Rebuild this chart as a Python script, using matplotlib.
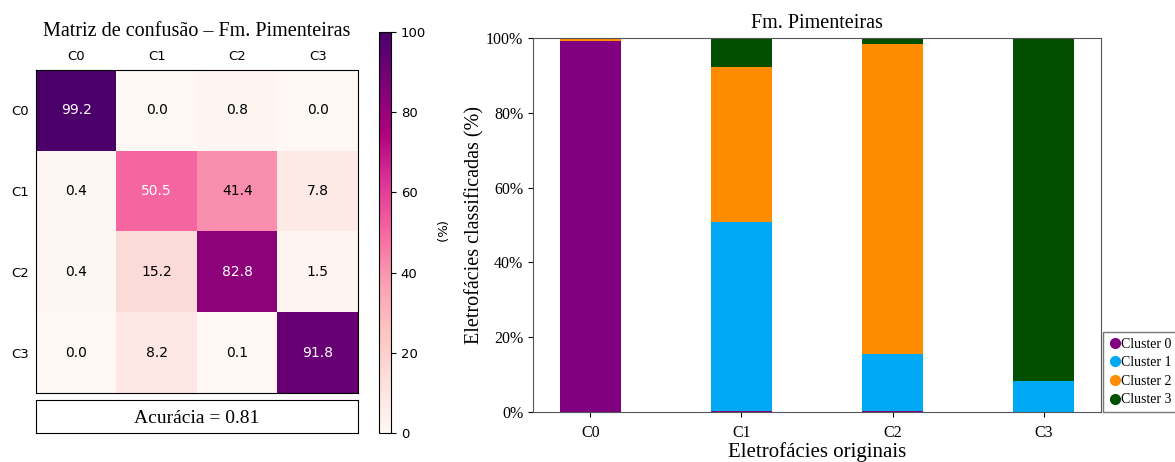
import numpy as np
import matplotlib
matplotlib.use("Agg")
from matplotlib import pyplot as plt

# classes (true = rows, predicted = columns)
classes = ["C0", "C1", "C2", "C3"]
row_c0 = [99.2, 0.0, 0.8, 0.0]
row_c1 = [0.4, 50.5, 41.4, 7.8]
row_c2 = [0.4, 15.2, 82.8, 1.5]
row_c3 = [0.0, 8.2, 0.1, 91.8]
accuracy = 0.81

cluster_names = ["Cluster 0", "Cluster 1", "Cluster 2", "Cluster 3"]
cluster_colors = ["#800080", "#00a9f4", "#ff8c00", "#005000"]

serif = ["Liberation Serif", "DejaVu Serif"]

matrix = np.array([row_c0, row_c1, row_c2, row_c3])

W, H = 1175, 462
fig = plt.figure(figsize=(W / 100, H / 100), dpi=100)


def px(x0, y0, x1, y1):
    # pixel box -> figure fraction
    return [x0 / W, 1 - y1 / H, (x1 - x0) / W, (y1 - y0) / H]


# ---- confusion matrix ----
ax = fig.add_axes(px(36, 70, 358, 393))
im = ax.imshow(matrix, cmap="RdPu", vmin=0, vmax=100, aspect="auto")
ax.set_xticks(range(len(classes)))
ax.set_yticks(range(len(classes)))
ax.set_xticklabels(classes, fontsize=9.5)
ax.set_yticklabels(classes, fontsize=9.5)
ax.xaxis.tick_top()
ax.tick_params(length=0, pad=5)
for i in range(len(classes)):
    for j in range(len(classes)):
        v = matrix[i, j]
        ax.text(j, i, f"{v:.1f}", ha="center", va="center", fontsize=10,
                color="white" if v > 50 else "black")
fig.text((36 + 358) / 2 / W, 1 - 32 / H, "Matriz de confusão – Fm. Pimenteiras",
         ha="center", va="center", family=serif, fontsize=14.5)

# accuracy box
axa = fig.add_axes(px(36, 400, 358, 433))
axa.set_xticks([])
axa.set_yticks([])
axa.text(0.5, 0.45, f"Acurácia = {accuracy:.2f}", ha="center", va="center",
         family=serif, fontsize=14, transform=axa.transAxes)

# colorbar
cax = fig.add_axes(px(379, 32, 391, 433))
cb = fig.colorbar(im, cax=cax)
cb.set_ticks([0, 20, 40, 60, 80, 100])
cb.ax.tick_params(labelsize=9.5)
cb.set_label("(%)", rotation=270, fontsize=9.5, labelpad=14)
cb.outline.set_linewidth(0.8)

# ---- stacked bars ----
axb = fig.add_axes(px(533, 38, 1101, 412))
x = np.arange(len(classes))
bottom = np.zeros(len(classes))
for k in range(len(cluster_names)):
    vals = matrix[:, k]
    axb.bar(x, vals, 0.4, bottom=bottom, color=cluster_colors[k],
            label=cluster_names[k])
    bottom += vals
axb.set_ylim(0, 100)
axb.set_xlim(-0.38, 3.38)
axb.set_xticks(x)
axb.set_xticklabels(classes, family=serif, fontsize=11.5)
axb.set_yticks([0, 20, 40, 60, 80, 100])
axb.set_yticklabels([f"{t}%" for t in [0, 20, 40, 60, 80, 100]],
                    family=serif, fontsize=11.5)
axb.tick_params(axis="x", pad=6)
axb.set_title("Fm. Pimenteiras", family=serif, fontsize=14.5, pad=7)
axb.set_ylabel("Eletrofácies classificadas (%)", family=serif, fontsize=14.5,
               labelpad=1)
axb.set_xlabel("Eletrofácies originais", family=serif, fontsize=15, labelpad=1)
for s in axb.spines.values():
    s.set_color("#555555")

handles = [plt.Line2D([], [], marker="o", linestyle="", color=c, markersize=7)
           for c in cluster_colors]
leg = axb.legend(handles, cluster_names, loc="lower left",
                 bbox_to_anchor=(1.003, 0.0), prop={"family": serif, "size": 10},
                 handletextpad=0.0, handlelength=0.9, borderaxespad=0,
                 frameon=True, fancybox=False, borderpad=0.4, labelspacing=0.4)
leg.get_frame().set_edgecolor("#555555")

fig.savefig("out.png", dpi=100)
